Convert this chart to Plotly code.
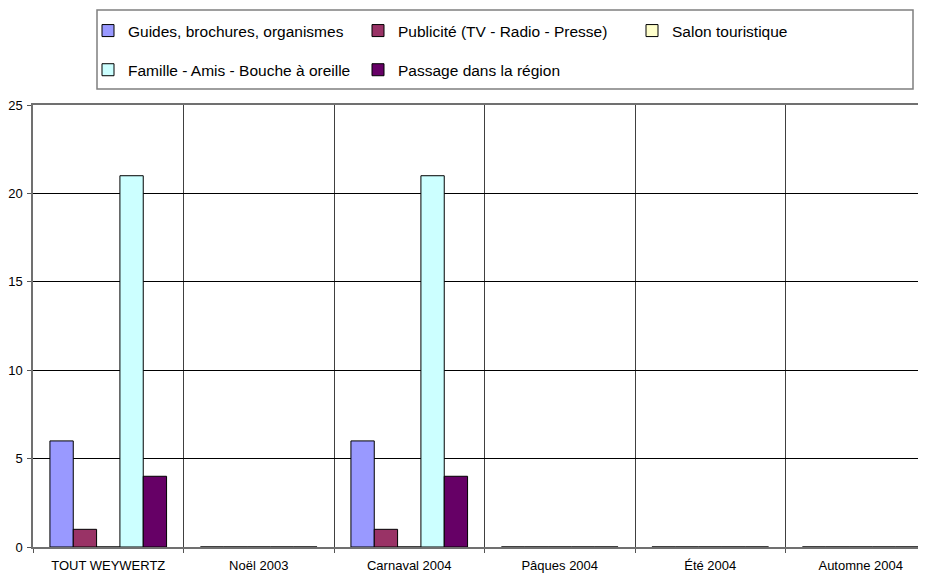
import plotly.graph_objects as go

categories = ["TOUT WEYWERTZ", "Noël 2003", "Carnaval 2004", "Pâques 2004", "Été 2004", "Automne 2004"]
guides = [6, 0, 6, 0, 0, 0]
publicite = [1, 0, 1, 0, 0, 0]
salon = [0, 0, 0, 0, 0, 0]
famille = [21, 0, 21, 0, 0, 0]
passage = [4, 0, 4, 0, 0, 0]
y_ticks = [0, 5, 10, 15, 20, 25]

series = [
    ("Guides, brochures, organismes", guides, "#9999FF", "legend"),
    ("Publicité (TV - Radio - Presse)", publicite, "#993366", "legend2"),
    ("Salon touristique", salon, "#FFFFCC", "legend3"),
    ("Famille - Amis - Bouche à oreille", famille, "#CCFFFF", "legend"),
    ("Passage dans la région", passage, "#660066", "legend2"),
]

# the page body adds an 8px margin: work in page pixels and shift by OFF
OFF = 8
W, H = 926 - OFF, 573 - OFF
ML, MR, MT, MB = 33 - OFF, 0, 105 - OFF, 26
PW = W - ML - MR
PH = H - MT - MB
cat_w = 150.5


def px_x(page_px):
    return (page_px - OFF - ML) / PW


def px_y(page_py):
    return (H - MB - (page_py - OFF)) / PH


fig = go.Figure()
for i, (name, vals, color, lg) in enumerate(series):
    fig.add_trace(go.Bar(
        x=categories, y=vals, name=name,
        marker=dict(color=color, line=dict(color="#000000", width=1)),
        legend=lg, legendgroup=name,
    ))

font_main = dict(family="Liberation Sans, Arial, sans-serif", size=13, color="#000000")
leg_font = dict(family="Liberation Sans, Arial, sans-serif", size=15.5, color="#000000")

legend_common = dict(
    orientation="v", xanchor="left", yanchor="top",
    xref="container", yref="container",
    bgcolor="rgba(0,0,0,0)", borderwidth=0, font=leg_font,
    tracegroupgap=16, traceorder="grouped",
)

top_fig = 6
fig.update_layout(
    width=W, height=H,
    margin=dict(l=ML, r=MR, t=MT, b=MB, pad=0, autoexpand=False),
    paper_bgcolor="#FFFFFF", plot_bgcolor="#FFFFFF",
    font=font_main,
    barmode="group", bargap=0.225, bargroupgap=0,
    showlegend=True,
    legend=dict(x=80 / W, y=1 - top_fig / H, **legend_common),
    legend2=dict(x=350 / W, y=1 - top_fig / H, **legend_common),
    legend3=dict(x=624 / W, y=1 - top_fig / H, **legend_common),
    xaxis=dict(
        type="category", range=[-0.5, -0.5 + PW / cat_w], automargin=False,
        tickson="boundaries", ticks="outside", ticklen=4, tickcolor="#555555",
        showgrid=True, gridcolor="#404040", gridwidth=1,
        showline=True, mirror=True, linecolor="#707070", linewidth=1.5,
        tickfont=font_main, ticklabelstandoff=6,
    ),
    yaxis=dict(
        range=[0, 25], tickvals=y_ticks, ticks="outside", ticklen=4, tickcolor="#555555",
        showgrid=True, gridcolor="#000000", gridwidth=1, zeroline=False, automargin=False,
        showline=True, linecolor="#707070", linewidth=1.5,
        tickfont=font_main, ticklabelstandoff=2,
    ),
    shapes=[dict(
        type="rect", xref="paper", yref="paper",
        x0=px_x(97), x1=px_x(913), y0=px_y(89), y1=px_y(10),
        line=dict(color="#7F7F7F", width=1.5), fillcolor="rgba(0,0,0,0)", layer="above",
    )],
)

fig.write_html("out.html")
